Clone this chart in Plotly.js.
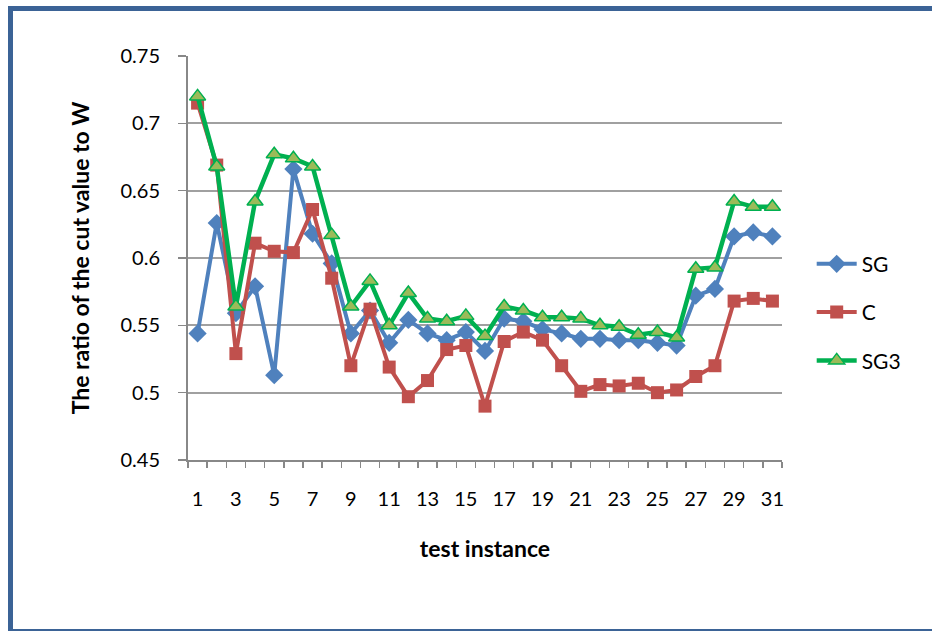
<!DOCTYPE html>
<html>
<head>
<meta charset="utf-8">
<script src="https://cdn.plot.ly/plotly-3.0.1.min.js"></script>
<style>
  html, body { margin: 0; padding: 0; background: #ffffff; overflow: hidden; }
  #chart { width: 932px; height: 631px; }
  #frame { position: absolute; left: 8px; top: 6px; width: 1000px; height: 628px;
           box-sizing: border-box; border: 5px solid #3b6396; pointer-events: none; }
</style>
</head>
<body>
<div id="chart"></div>
<div id="frame"></div>
<script>
// test instances
const instances = [1,2,3,4,5,6,7,8,9,10,11,12,13,14,15,16,17,18,19,20,21,22,23,24,25,26,27,28,29,30,31];
const tickLabels = ["1","3","5","7","9","11","13","15","17","19","21","23","25","27","29","31"];
const tickPositions = [1,3,5,7,9,11,13,15,17,19,21,23,25,27,29,31];

// series values (ratio of cut value to W)
const SG  = [0.544,0.626,0.559,0.579,0.513,0.666,0.618,0.596,0.544,0.561,0.537,0.554,0.544,0.539,0.545,0.531,0.555,0.553,0.547,0.544,0.540,0.540,0.539,0.539,0.537,0.535,0.572,0.577,0.616,0.619,0.616];
const C   = [0.715,0.669,0.529,0.611,0.605,0.604,0.636,0.585,0.520,0.562,0.519,0.497,0.509,0.532,0.535,0.490,0.538,0.545,0.539,0.520,0.501,0.506,0.505,0.507,0.500,0.502,0.512,0.520,0.568,0.570,0.568];
const SG3 = [0.720,0.668,0.564,0.642,0.677,0.674,0.668,0.617,0.564,0.583,0.550,0.574,0.555,0.553,0.557,0.542,0.564,0.561,0.556,0.556,0.555,0.550,0.549,0.543,0.545,0.541,0.592,0.593,0.642,0.638,0.638];

const fontFam = "Lato, 'Open Sans', sans-serif";

const traces = [
  { x: instances, y: SG, name: "SG", type: "scatter", mode: "lines+markers", legendgroup: "a",
    line: { color: "#4f81bd", width: 4 },
    marker: { symbol: "diamond", size: 14, color: "#4f81bd" } },
  { x: instances, y: C, name: "C", type: "scatter", mode: "lines+markers", legendgroup: "b",
    line: { color: "#c0504d", width: 4 },
    marker: { symbol: "square", size: 13, color: "#c0504d" } },
  { x: instances, y: SG3, name: "SG3", type: "scatter", mode: "lines+markers", legendgroup: "c",
    line: { color: "#00b050", width: 4.5 },
    marker: { symbol: "triangle-up", size: 14, color: "#9bbb59", line: { color: "#00b050", width: 1.5 } } }
];

const layout = {
  width: 932, height: 631,
  margin: { l: 188, r: 150, t: 56, b: 171 },
  paper_bgcolor: "#ffffff", plot_bgcolor: "#ffffff",
  font: { family: fontFam, size: 20, color: "#000000" },
  showlegend: true,
  legend: { x: 1.05, y: 0.366, xanchor: "left", yanchor: "middle",
            font: { family: fontFam, size: 21, color: "#000" },
            tracegroupgap: 18, itemwidth: 40, bgcolor: "rgba(0,0,0,0)" },
  xaxis: {
    range: [0.5, 31.5],
    tickmode: "array", tickvals: tickPositions, ticktext: tickLabels,
    ticks: "", showgrid: false, zeroline: false,
    showline: true, linecolor: "#888888", linewidth: 2,
    ticklabelstandoff: 20,
    minor: { ticks: "outside", tick0: 0.5, dtick: 1, ticklen: 6, tickcolor: "#888888", tickwidth: 1.5, showgrid: false },
    tickfont: { family: fontFam, size: 20 },
    title: { text: "test instance", font: { family: fontFam, size: 23, weight: "bold" }, standoff: 32 },
    automargin: false, fixedrange: true
  },
  yaxis: {
    range: [0.45, 0.75],
    tickmode: "array", tickvals: [0.45,0.5,0.55,0.6,0.65,0.7,0.75],
    ticktext: ["0.45","0.5","0.55","0.6","0.65","0.7","0.75"],
    ticks: "outside", ticklen: 8, tickcolor: "#888888", tickwidth: 1.5,
    showgrid: true, gridcolor: "#a0a0a0", gridwidth: 2,
    zeroline: false, showline: true, linecolor: "#888888", linewidth: 2,
    ticklabelstandoff: 14,
    tickfont: { family: fontFam, size: 20 },
    title: { text: "The ratio of the cut value to W", font: { family: fontFam, size: 23, weight: "bold" }, standoff: 24 },
    automargin: false, fixedrange: true
  }
};

Plotly.newPlot("chart", traces, layout, { displayModeBar: false, staticPlot: true });
</script>
</body>
</html>
